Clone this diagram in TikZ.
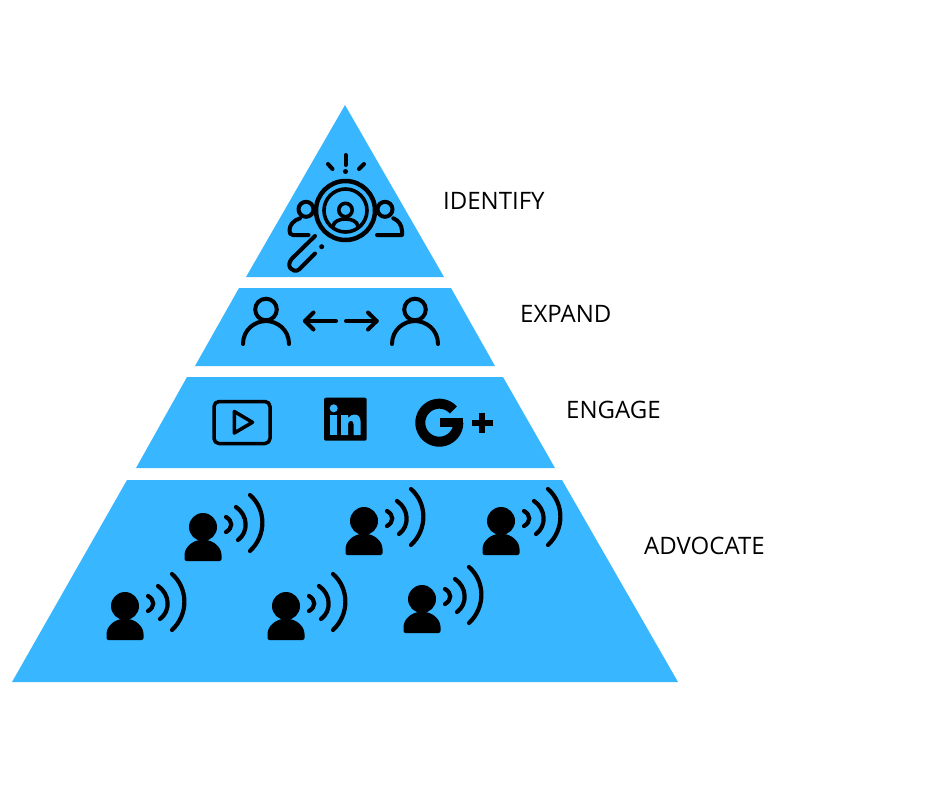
\documentclass[tikz,border=0pt]{standalone}
\usepackage{fontspec}
\setmainfont{Open Sans}
\definecolor{tierblue}{HTML}{38B6FF}
\tikzset{
  tier/.style={fill=tierblue},
  tierlabel/.style={anchor=west,inner sep=0pt,font=\fontsize{24}{28}\selectfont},
  wave/.style={draw=black,line width=4.2pt,line cap=round},
  thinline/.style={draw=black,line width=4pt,line cap=round,line join=round},
  talker/.pic={
    \fill (0,0) circle (14pt);
    \fill[rounded corners=2pt] (-18.5,34) -- (-18.5,30) .. controls (-18.5,20) and (-10,13) .. (0,13) .. controls (10,13) and (18.5,20) .. (18.5,30) -- (18.5,34) -- cycle;
    \draw[wave] (23,-10) .. controls (30,-6) and (30,1) .. (23,5);
    \draw[wave] (33,-20) .. controls (45,-12) and (46,5) .. (35,13);
    \draw[wave] (47,-32) .. controls (63,-18) and (64,8) .. (47,24);
  },
  friend/.pic={
    \draw[thinline] (0,0) circle (10.8pt);
    \draw[thinline] (-23,34.5) .. controls (-23,20) and (-11,11.5) .. (0,11.5) .. controls (11,11.5) and (23,20) .. (23,34.5);
  }
}

\begin{document}
\begin{tikzpicture}[x=1pt,y=-1pt]
\useasboundingbox (0,0) rectangle (940,788);

% the four tiers
\fill[tier] (345,105)--(444,277)--(246,277)--cycle;
\fill[tier] (239,288)--(451,288)--(495,366)--(195,366)--cycle;
\fill[tier] (187,377)--(503,377)--(555,468)--(136,468)--cycle;
\fill[tier] (127,480)--(562,480)--(678,682)--(12,682)--cycle;

% labels
\node[tierlabel] (identify) at (443,201) {IDENTIFY};
\node[tierlabel] (expand) at (520,314) {EXPAND};
\node[tierlabel] (engage) at (566,410) {ENGAGE};
\node[tierlabel] (advocate) at (644,546) {ADVOCATE};

% magnifier on the top tier
\draw[thinline,line width=4.5pt] (345.5,210.5) circle (29.5pt);
\draw[thinline,line width=3.6pt] (345.5,210.5) circle (21.5pt);
\draw[thinline,line width=3.6pt] (345.5,210) circle (6.7pt);
\draw[thinline,line width=3.6pt] (333,226) .. controls (334,221) and (340,219) .. (345.5,219) .. controls (351,219) and (357,221) .. (358,226);
\draw[thinline] (345.5,155)--(345.5,165);
\fill (345.5,171.5) circle (2.5pt);
\draw[thinline] (328,164)--(332.5,169);
\draw[thinline] (364,164)--(359,169);
\draw[thinline] (306,209.3) circle (7.5pt);
\draw[thinline] (385,209.3) circle (7.5pt);
\draw[thinline] (300,218.3) .. controls (294,220) and (289.5,225) .. (289.5,230) .. controls (289.5,233) and (290,235) .. (293,235) -- (308.5,235);
\draw[thinline] (393.3,218.3) .. controls (398,220) and (402,225) .. (402,231) -- (402,235) -- (377,235);
\draw[thinline] (315,236)--(292,258.5) .. controls (285,266) and (293,274) .. (299,269.5)--(315,253.5);
\fill (321.7,246.7) circle (2.5pt);

% two people and arrows
\pic at (266,309.5) {friend};
\pic at (415,309.5) {friend};
\draw[thinline] (305,321)--(336,321);
\draw[thinline] (313.5,312.5)--(305,321)--(313.5,329.5);
\draw[thinline] (346,321)--(376.7,321);
\draw[thinline] (368,312.5)--(376.7,321)--(368,329.5);

% play button
\draw[thinline,line width=3.5pt,rounded corners=5pt] (214,401.5) rectangle (270,443.5);
\draw[thinline,line width=3.5pt,miter limit=4] (234.3,411.5)--(234.3,433)--(252.5,422.3)--cycle;

% linkedin box
\fill[rounded corners=2pt] (324,397.7) rectangle (366.7,440.7);
\fill[tierblue] (333.7,408.3) circle (4pt);
\fill[tierblue] (330,415) rectangle (337.3,435);
\fill[tierblue] (341,415) -- (348,415) -- (348,418) .. controls (350,415.5) and (352.5,414.5) .. (354.5,414.5) .. controls (359,414.5) and (360.7,418) .. (360.7,423) -- (360.7,435) -- (353.7,435) -- (353.7,424.5) .. controls (353.7,419.5) and (348,419.5) .. (348,424.5) -- (348,435) -- (341,435) -- cycle;

% g plus
\draw[line width=10pt] plot[domain=42:360,samples=50] ({439.3+19*cos(\x)},{422.7-19*sin(\x)});
\fill (440,417.5) rectangle (463.3,426.5);
\draw[line width=6.5pt] (471.7,423)--(492.7,423);
\draw[line width=6.5pt] (482.2,412.7)--(482.2,433);

% the talkers on the bottom tier
\foreach \px/\py in {203/527,364/521,501/521,125/606,286/606,422/599}{%
    \pic at (\px,\py) {talker};}

\end{tikzpicture}
\end{document}
